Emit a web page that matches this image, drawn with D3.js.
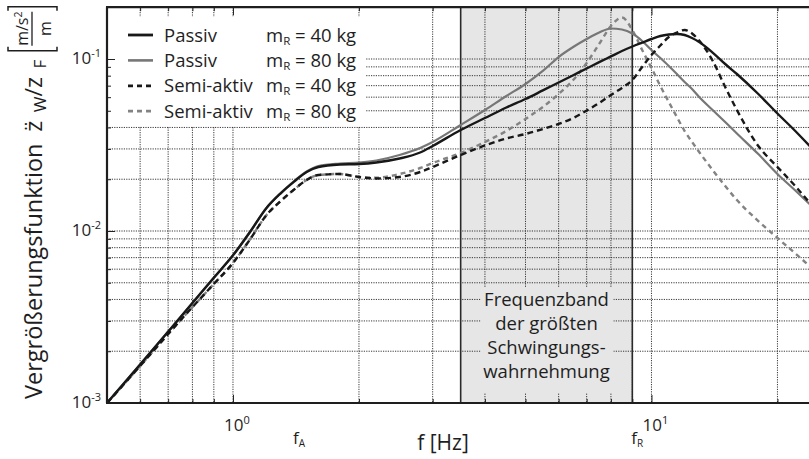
<!DOCTYPE html>
<html><head><meta charset="utf-8">
<script src="https://cdn.jsdelivr.net/npm/d3@7"></script>
<style>body{margin:0;background:#fff} svg{display:block} text{font-family:"Open Sans",sans-serif;fill:#1e1e1e}</style>
</head><body><svg id="c" width="809" height="459"></svg>
<script>
// ---- data ----
const freq = [0.5,0.6,0.7,0.8,0.9,1.0,1.1,1.2,1.3,1.4,1.5,1.6,1.8,2.0,2.2,2.5,2.8,3.0,3.5,4.0,4.5,5.0,5.5,6.0,6.5,7.0,7.5,8.0,8.5,9.0,9.5,10,10.5,11,11.5,12,12.5,13,14,15,16,18,20,22,24];
const passiv40 = [0.00100,0.001675,0.00260,0.00381,0.00535,0.00722,0.00993,0.01353,0.01657,0.01938,0.02203,0.02355,0.02435,0.02452,0.02502,0.02639,0.02860,0.03120,0.03866,0.04539,0.05224,0.05852,0.06567,0.07302,0.08049,0.08806,0.09581,0.1035,0.1113,0.1182,0.1245,0.1307,0.1361,0.1388,0.1398,0.1379,0.1325,0.1256,0.1090,0.0935,0.0818,0.0626,0.0482,0.0384,0.0308];
const passiv80 = [0.00100,0.001675,0.00260,0.00381,0.00535,0.00722,0.00993,0.01353,0.01660,0.01953,0.02218,0.02387,0.02468,0.02502,0.02570,0.02766,0.03038,0.03292,0.04133,0.05052,0.06095,0.07156,0.0852,0.1027,0.1174,0.1307,0.1426,0.1504,0.1484,0.1407,0.1273,0.1128,0.1013,0.0911,0.0818,0.0735,0.0669,0.0601,0.0505,0.0430,0.0369,0.0280,0.02145,0.01731,0.01416];
const semi40 = [0.00100,0.00164,0.00252,0.00361,0.00492,0.00652,0.00899,0.01230,0.01494,0.01743,0.01980,0.02117,0.02145,0.02061,0.02020,0.02061,0.02203,0.02355,0.02766,0.03142,0.03450,0.03664,0.03918,0.04189,0.04539,0.0501,0.05549,0.06176,0.0679,0.0755,0.0899,0.1055,0.1198,0.1343,0.1426,0.1474,0.1407,0.1281,0.0977,0.0688,0.0505,0.0312,0.02355,0.01839,0.01436];
const semi80 = [0.00100,0.00164,0.00252,0.00361,0.00492,0.00652,0.00899,0.01230,0.01494,0.01743,0.01980,0.02117,0.02145,0.02061,0.02040,0.02145,0.02324,0.02485,0.02842,0.03292,0.03814,0.04480,0.05260,0.06257,0.07548,0.0948,0.1223,0.1556,0.1743,0.1474,0.1128,0.0887,0.06966,0.05623,0.0460,0.03814,0.03292,0.02879,0.02263,0.01827,0.01514,0.01143,0.00911,0.00745,0.00618];

const seriesNames = ["Passiv","Passiv","Semi-aktiv","Semi-aktiv"];
const massLabels = ["40 kg","80 kg","40 kg","80 kg"];
const seriesValues = [passiv40, passiv80, semi40, semi80];

const xMajorTicks = [1, 10];
const xMajorExp = ["0","1"];
const xMinorTicks = [0.6,0.7,0.8,0.9,2,3,4,5,6,7,8,9,20];
const yMajorTicks = [1e-3,1e-2,1e-1];
const yMajorExp = ["-3","-2","-1"];
const yMinorTicks = [2e-3,3e-3,4e-3,5e-3,6e-3,7e-3,8e-3,9e-3,2e-2,3e-2,4e-2,5e-2,6e-2,7e-2,8e-2,9e-2];
const bandRange = [3.5, 9.0];
const bandText = ["Frequenzband","der größten","Schwingungs-","wahrnehmung"];
const markerFreq = [1.43, 9.2];
const markerSub = ["A","R"];

// ---- styles ----
const styles = [
  {color:"#181818", dash:null, w:2.4},
  {color:"#777777", dash:null, w:2.2},
  {color:"#181818", dash:"6,4", w:2.4},
  {color:"#838383", dash:"5,4", w:2.4}
];

const svg = d3.select("#c");
const L = 107, B = 403, decX = 418.5, decY = 172;
const x = d3.scaleLog().domain([0.5, 25]).range([L, L + decX*Math.log10(50)]);
const y = d3.scaleLog().domain([1e-3, 0.2]).range([B, B - decY*Math.log10(200)]);
const R = x.range()[1], T = y.range()[1];

// band
svg.append("rect").attr("x", x(bandRange[0])).attr("y", T).attr("width", x(bandRange[1]) - x(bandRange[0]))
  .attr("height", B - T).attr("fill", "#e6e6e6");

// grid
const grid = svg.append("g").attr("stroke", "#222").attr("stroke-width", 0.9).attr("stroke-dasharray", "1.2,1.2");
grid.selectAll("line.v").data(xMinorTicks.concat(xMajorTicks)).join("line")
  .attr("x1", d => x(d)).attr("x2", d => x(d)).attr("y1", T).attr("y2", B);
grid.selectAll("line.h").data(yMinorTicks.concat(yMajorTicks.slice(1))).join("line").attr("class","h")
  .attr("x1", L).attr("x2", R).attr("y1", d => y(d)).attr("y2", d => y(d));

// band edges
svg.selectAll("line.be").data(bandRange).join("line").attr("class","be")
  .attr("x1", d => x(d)).attr("x2", d => x(d)).attr("y1", T).attr("y2", B)
  .attr("stroke", "#2a2a2a").attr("stroke-width", 1.6);

// band text box
const bx0 = x(bandRange[0]) + 20, bx1 = x(bandRange[1]) - 19;
svg.append("rect").attr("x", bx0).attr("y", 288).attr("width", bx1 - bx0).attr("height", 105).attr("fill", "#e6e6e6");
const bcx = (x(bandRange[0]) + x(bandRange[1]))/2;
svg.selectAll("text.bt").data(bandText).join("text").attr("class","bt")
  .attr("x", bcx).attr("y", (d,i) => 306 + i*24).attr("text-anchor","middle")
  .attr("font-size", 18.5).text(d => d);

// legend background
svg.append("rect").attr("x", L+1).attr("y", 17).attr("width", 258).attr("height", 109).attr("fill", "#fff");

// clip
svg.append("clipPath").attr("id","clip").append("rect").attr("x", L).attr("y", T).attr("width", R-L).attr("height", B-T);

// curves
const line = d3.line().x(d => x(d[0])).y(d => y(d[1])).curve(d3.curveMonotoneX);
const drawOrder = [3,1,2,0];
svg.append("g").attr("clip-path","url(#clip)").selectAll("path").data(drawOrder).join("path")
  .attr("d", i => line(freq.map((f,k) => [f, seriesValues[i][k]])))
  .attr("fill","none").attr("stroke", i => styles[i].color).attr("stroke-width", i => styles[i].w)
  .attr("stroke-dasharray", i => styles[i].dash).attr("stroke-linejoin","round");

// axes ticks (inward)
const ax = svg.append("g");
ax.append("g").attr("transform",`translate(${L},0)`).call(d3.axisLeft(y).tickValues(yMinorTicks).tickSize(-4).tickFormat(""));
ax.append("g").attr("transform",`translate(${L},0)`).call(d3.axisLeft(y).tickValues(yMajorTicks).tickSize(-8).tickFormat(""));
ax.append("g").attr("transform",`translate(0,${B})`).call(d3.axisBottom(x).tickValues(xMinorTicks).tickSize(-4).tickFormat(""));
ax.append("g").attr("transform",`translate(0,${B})`).call(d3.axisBottom(x).tickValues(xMajorTicks).tickSize(-8).tickFormat(""));
ax.append("g").attr("transform",`translate(0,${T})`).call(d3.axisTop(x).tickValues(xMinorTicks).tickSize(-4).tickFormat(""));
ax.append("g").attr("transform",`translate(0,${T})`).call(d3.axisTop(x).tickValues(xMajorTicks).tickSize(-8).tickFormat(""));
ax.selectAll(".domain").remove();
ax.selectAll(".tick line").attr("stroke","#222").attr("stroke-width",1);
// frame lines
svg.append("line").attr("x1",L).attr("x2",L).attr("y1",T).attr("y2",B).attr("stroke","#1e1e1e").attr("stroke-width",2.2);
svg.append("line").attr("x1",L-1).attr("x2",R).attr("y1",B).attr("y2",B).attr("stroke","#1e1e1e").attr("stroke-width",2.2);
svg.append("line").attr("x1",L-1).attr("x2",R).attr("y1",T).attr("y2",T).attr("stroke","#1e1e1e").attr("stroke-width",2.2);

// tick labels
const yl = svg.selectAll("text.yl").data(yMajorTicks).join("text").attr("class","yl")
  .attr("x", 101).attr("y", d => y(d) + 5).attr("text-anchor","end").attr("font-size", 17);
yl.append("tspan").text("10");
yl.append("tspan").attr("dy", -7).attr("font-size", 11).text((d,i) => yMajorExp[i]);
const xl = svg.selectAll("text.xl").data(xMajorTicks).join("text").attr("class","xl")
  .attr("x", d => x(d) + 4).attr("y", 431).attr("text-anchor","middle").attr("font-size", 17);
xl.append("tspan").text("10");
xl.append("tspan").attr("dy", -7).attr("font-size", 11).text((d,i) => xMajorExp[i]);

// f_A, f_R markers
const ml = svg.selectAll("text.ml").data(markerFreq).join("text").attr("class","ml")
  .attr("x", d => x(d) - 5).attr("y", 444).attr("font-size", 17);
ml.append("tspan").text("f");
ml.append("tspan").attr("dy", 3).attr("font-size", 10).text((d,i) => markerSub[i]);

// x title
svg.append("text").attr("x", 443).attr("y", 450).attr("text-anchor","middle").attr("font-size", 21).text("f [Hz]");

// y title
const yt = svg.append("g").attr("transform","translate(42,399) rotate(-90)");
const ytt = yt.append("text").attr("x",0).attr("y",0).attr("font-size",23.5);
ytt.append("tspan").text("Vergrößerungsfunktion\u2002z\u0308");
ytt.append("tspan").attr("dy",4).attr("font-size",17).text("\u2002W");
ytt.append("tspan").attr("dy",-4).text("/z");
ytt.append("tspan").attr("dy",4).attr("font-size",17).text("\u2002F");
const tl = ytt.node().getComputedTextLength();
const fg = yt.append("g").attr("transform",`translate(${tl+9},0)`);
const bw = 44;
fg.append("path").attr("d","M4,-34 L0,-34 L0,15 L4,15").attr("fill","none").attr("stroke","#1e1e1e").attr("stroke-width",1.5);
fg.append("path").attr("d",`M${bw-4},-34 L${bw},-34 L${bw},15 L${bw-4},15`).attr("fill","none").attr("stroke","#1e1e1e").attr("stroke-width",1.5);
fg.append("line").attr("x1",5).attr("x2",bw-5).attr("y1",-10).attr("y2",-10).attr("stroke","#1e1e1e").attr("stroke-width",1.3);
const num = fg.append("text").attr("x",bw/2).attr("y",-14).attr("text-anchor","middle").attr("font-size",16);
num.append("tspan").text("m/s");
num.append("tspan").attr("dy",-6).attr("font-size",10.5).text("2");
fg.append("text").attr("x",bw/2).attr("y",9).attr("text-anchor","middle").attr("font-size",16).text("m");

// legend
const lg = svg.append("g");
const rows = lg.selectAll("g").data(seriesNames).join("g").attr("transform",(d,i)=>`translate(0,${35 + i*25.4})`);
rows.append("line").attr("x1",128).attr("x2",153).attr("y1",0).attr("y2",0)
  .attr("stroke",(d,i)=>styles[i].color).attr("stroke-width",(d,i)=>styles[i].w+0.4)
  .attr("stroke-dasharray",(d,i)=>styles[i].dash ? "5,4" : null);
rows.append("text").attr("x",164).attr("y",6.5).attr("font-size",18.5).text(d=>d);
const mt = rows.append("text").attr("x",266).attr("y",6.5).attr("font-size",18.5);
mt.append("tspan").text("m");
mt.append("tspan").attr("dy",3).attr("font-size",11.5).text("R");
mt.append("tspan").attr("dy",-3).text((d,i)=>" = " + massLabels[i]);
</script></body></html>
